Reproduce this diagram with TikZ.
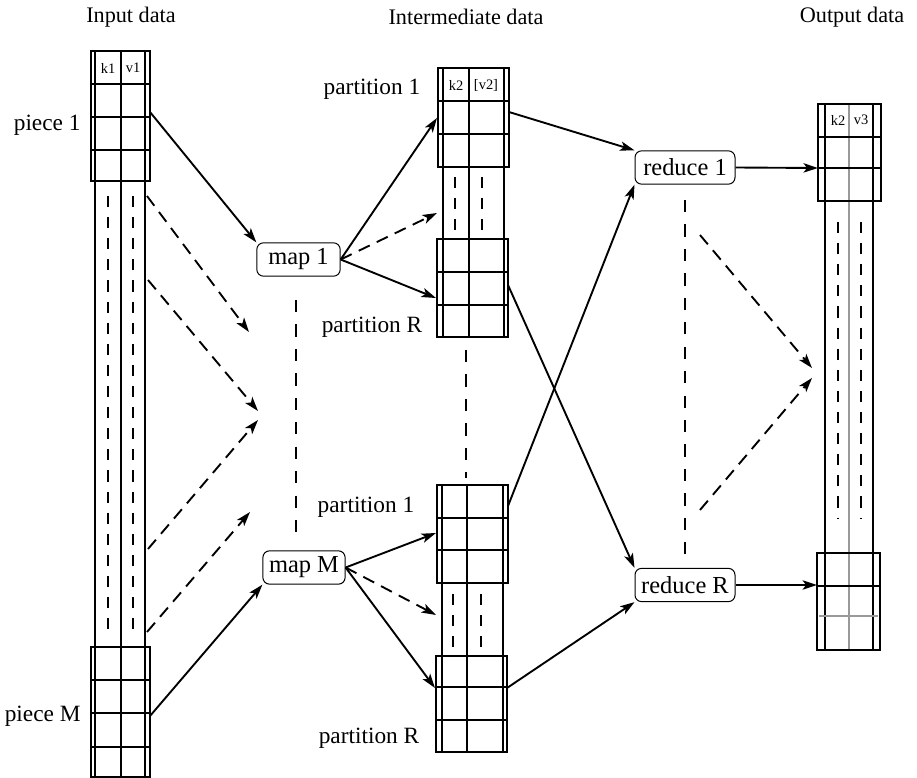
\documentclass[tikz,border=0pt]{standalone}
\usepackage{fontspec}
\setmainfont{Liberation Serif}
\usetikzlibrary{arrows.meta}
\begin{document}
\begin{tikzpicture}[x=0.45pt,y=-0.45pt,
  grid/.style={line width=0.55pt},
  gridgray/.style={line width=0.55pt,draw=black!40},
  dots/.style={line width=0.6pt,dash pattern=on 5pt off 4.5pt},
  sep/.style={line width=0.5pt,dash pattern=on 5.5pt off 5.5pt},
  arr/.style={line width=0.85pt,-{Stealth[length=6.5pt,width=4.2pt,inset=1.6pt]}},
  darr/.style={arr,dash pattern=on 5.5pt off 3.5pt},
  proc/.style={draw,line width=0.45pt,rounded corners=3pt,inner sep=0pt,
    font=\fontsize{11}{13}\selectfont},
  lbl/.style={font=\fontsize{10.5}{12}\selectfont,inner sep=0pt},
  head/.style={font=\fontsize{10}{12}\selectfont,inner sep=0pt},
  tiny/.style={font=\fontsize{6.5}{8}\selectfont,inner sep=0pt}]
\useasboundingbox (0,0) rectangle (917,778);

% column headings
\node[head] (hin)  at (131,17) {Input data};
\node[head] (hmid) at (466,17) {Intermediate data};
\node[head] (hout) at (852,17) {Output data};

% ---------- input column ----------
\foreach \x in {95,121,145} \draw[grid] (\x,51) -- (\x,777);
\draw[grid] (91,51) rectangle (150,181);
\foreach \y in {84,117,150} \draw[grid] (91,\y) -- (150,\y);
\draw[grid] (91,647) rectangle (150,777);
\foreach \y in {680,713,747} \draw[grid] (91,\y) -- (150,\y);
\foreach \x in {108,133} \draw[dots] (\x,196) -- (\x,630);
\node[tiny] (k1) at (108,68) {k1};
\node[tiny] (v1) at (133,68) {v1};
\node[lbl,anchor=east] (piece1) at (81,125) {piece 1};
\node[lbl,anchor=east] (pieceM) at (81,716) {piece M};

% ---------- intermediate data, map 1 ----------
\foreach \x in {443,469,504} \draw[grid] (\x,68) -- (\x,337);
\draw[grid] (438,68) rectangle (509,167);
\foreach \y in {101,134} \draw[grid] (438,\y) -- (509,\y);
\draw[grid] (437,239) rectangle (508,337);
\foreach \y in {272,305} \draw[grid] (437,\y) -- (508,\y);
\foreach \x in {455,482} \draw[dots] (\x,177) -- (\x,233);
\node[tiny] (k2a) at (456,85) {k2};
\node[tiny] (v2a) at (486,85) {[v2]};
\node[lbl] (pa1) at (372,89) {partition 1};
\node[lbl] (paR) at (372,327) {partition R};

% ---------- intermediate data, map M ----------
\foreach \x in {442,467,503} \draw[grid] (\x,485) -- (\x,752);
\draw[grid] (437,485) rectangle (508,583);
\foreach \y in {518,550} \draw[grid] (437,\y) -- (508,\y);
\draw[grid] (436,656) rectangle (507,752);
\foreach \y in {687,720} \draw[grid] (436,\y) -- (507,\y);
\foreach \x in {453,481} \draw[dots] (\x,594) -- (\x,650);
\node[lbl] (pb1) at (366,507) {partition 1};
\node[lbl] (pbR) at (369,738) {partition R};

% ---------- output column ----------
\draw[gridgray] (849,104) -- (849,650);
\foreach \x in {825,873} \draw[grid] (\x,104) -- (\x,650);
\draw[grid] (818,104) rectangle (881,201);
\foreach \y in {137,168} \draw[grid] (818,\y) -- (881,\y);
\draw[grid] (817,553) rectangle (880,650);
\draw[grid] (817,586) -- (880,586);
\draw[gridgray] (819,616) -- (878,616);
\foreach \x in {838,861} \draw[dots] (\x,222) -- (\x,518);
\node[tiny] (k2o) at (838,120) {k2};
\node[tiny] (v3o) at (861,120) {v3};

% ---------- workers ----------
\node[proc,minimum width=37.5pt,minimum height=15pt] (map1) at (298.5,259.5) {map 1};
\node[proc,minimum width=37pt,minimum height=15pt] (mapM) at (304,567.5) {map M};
\node[proc,minimum width=45pt,minimum height=15pt] (red1) at (685,167.5) {reduce 1};
\node[proc,minimum width=45pt,minimum height=15pt] (redR) at (685,585) {reduce R};

% elided workers / partitions
\draw[sep] (296,300) -- (296,540);
\draw[sep] (466,350) -- (466,478);
\draw[sep] (685,200) -- (685,566);

% attachment points on the data columns
\coordinate (inA) at (150,112);
\coordinate (inM) at (150,716);
\coordinate (s1) at (147,196);  \coordinate (e1) at (249,332);
\coordinate (s2) at (148,280);  \coordinate (e2) at (258,411);
\coordinate (s3) at (148,549);  \coordinate (e3) at (258,420);
\coordinate (s4) at (147,632);  \coordinate (e4) at (250,512);
\coordinate (ta1) at (437,118);
\coordinate (tad) at (437,213);
\coordinate (taR) at (436,298);
\coordinate (tb1) at (436,533);
\coordinate (tbd) at (436,615);
\coordinate (tbR) at (435,688);
\coordinate (oa1) at (509,112);
\coordinate (oaR) at (508,285);
\coordinate (ob1) at (508,506);
\coordinate (obR) at (507,688);
\coordinate (o1) at (818,168);
\coordinate (oR) at (817,585);
\coordinate (f1) at (700,235);  \coordinate (g1) at (812,368);
\coordinate (f2) at (700,510);  \coordinate (g2) at (812,378);

% input to map
\draw[arr] (inA) -- (map1.north west);
\draw[arr] (inM) -- (mapM.south west);
\draw[darr] (s1) -- (e1);
\draw[darr] (s2) -- (e2);
\draw[darr] (s3) -- (e3);
\draw[darr] (s4) -- (e4);

% map to partitions
\draw[arr] (map1.east) -- (ta1);
\draw[darr] (map1.east) -- (tad);
\draw[arr] (map1.east) -- (taR);
\draw[arr] (mapM.east) -- (tb1);
\draw[darr] (mapM.east) -- (tbd);
\draw[arr] (mapM.east) -- (tbR);

% partitions to reduce
\draw[arr] (oa1) -- (red1.north west);
\draw[arr] (ob1) -- (red1.south west);
\draw[arr] (oaR) -- (redR.north west);
\draw[arr] (obR) -- (redR.south west);

% reduce to output
\draw[arr] (red1.east) -- (o1);
\draw[arr] (redR.east) -- (oR);
\draw[darr] (f1) -- (g1);
\draw[darr] (f2) -- (g2);
\end{tikzpicture}
\end{document}
